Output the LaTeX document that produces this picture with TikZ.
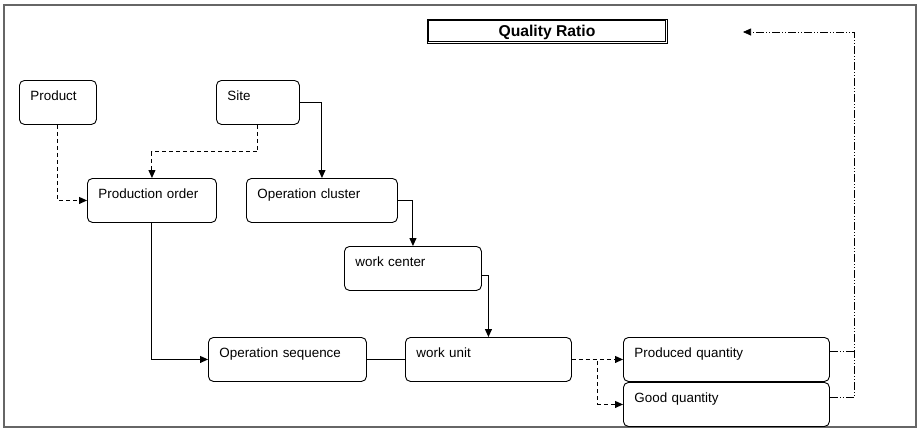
\documentclass[tikz,border=0pt]{standalone}
\usepackage{fontspec}
\setmainfont{Liberation Sans}
\usetikzlibrary{arrows.meta}
\begin{document}
\begin{tikzpicture}[x=1pt,y=-1pt,>={Triangle[length=8pt,width=7pt]},
    ent/.style={draw,rounded corners=5pt,line width=0.9pt,anchor=north west,
      inner xsep=11pt,inner ysep=0pt,text height=20pt,text depth=24pt,align=left,
      font=\fontsize{13.4}{16}\selectfont},
    link/.style={line width=1pt},
    dsh/.style={line width=1pt,dash pattern=on 4pt off 3pt},
    ddot/.style={line width=0.7pt,dash pattern=on 8pt off 2pt on 1pt off 2pt on 1pt off 2pt}]
    \useasboundingbox (0,0) rectangle (924,432);
    \draw[gray!80!black,line width=1.5pt] (4,5) rectangle (916,427);
    % title
    \node[draw,line width=0.8pt,minimum width=240pt,minimum height=24pt,inner sep=0pt,
      text depth=0pt,font=\fontsize{15.7}{18}\selectfont\bfseries] (ratio) at (547,31) {Quality Ratio};
    \draw[line width=0.8pt] ([shift={(2.2pt,-2.2pt)}]ratio.north west)
      rectangle ([shift={(-2.2pt,2.2pt)}]ratio.south east);
    % entities
    \node[ent,text width=55pt] (product) at (19,80) {Product};
    \node[ent,text width=61pt] (site) at (216,80) {Site};
    \node[ent,text width=107pt] (order) at (87,178) {Production order};
    \node[ent,text width=129pt] (cluster) at (246,178) {Operation cluster};
    \node[ent,text width=115pt] (center) at (344,246) {work center};
    \node[ent,text width=136pt] (seq) at (208,337) {Operation sequence};
    \node[ent,text width=144pt] (unit) at (405,337) {work unit};
    \node[ent,text width=184pt] (produced) at (623,337) {Produced quantity};
    \node[ent,text width=184pt] (good) at (623,382) {Good quantity};
    % connectors
    \draw[dsh,->] (product) |- (order);
    \draw[dsh,->] (site.south) -- ++(0,27) -| (order.north);
    \draw[link,->] (site) -| (cluster);
    \draw[link,->] (cluster) -| (center);
    \draw[link,->] ([yshift=-7pt]center.east) -| (unit);
    \draw[link,->] (order) |- (seq);
    \draw[link] (seq) -- (unit);
    \draw[dsh,->] (unit) -- (produced);
    \draw[dsh,->] (unit.east) -- ++(26,0) |- (good);
    % feedback to the ratio
    \coordinate (fb) at (854,32);
    \coordinate (qr) at (743,32);
    \coordinate (pq) at ([yshift=8pt]produced.east);
    \draw[ddot] (pq) -- (pq -| fb);
    \draw[ddot,->] ([yshift=7pt]good.east) -| (fb) -- (qr);
\end{tikzpicture}
\end{document}
